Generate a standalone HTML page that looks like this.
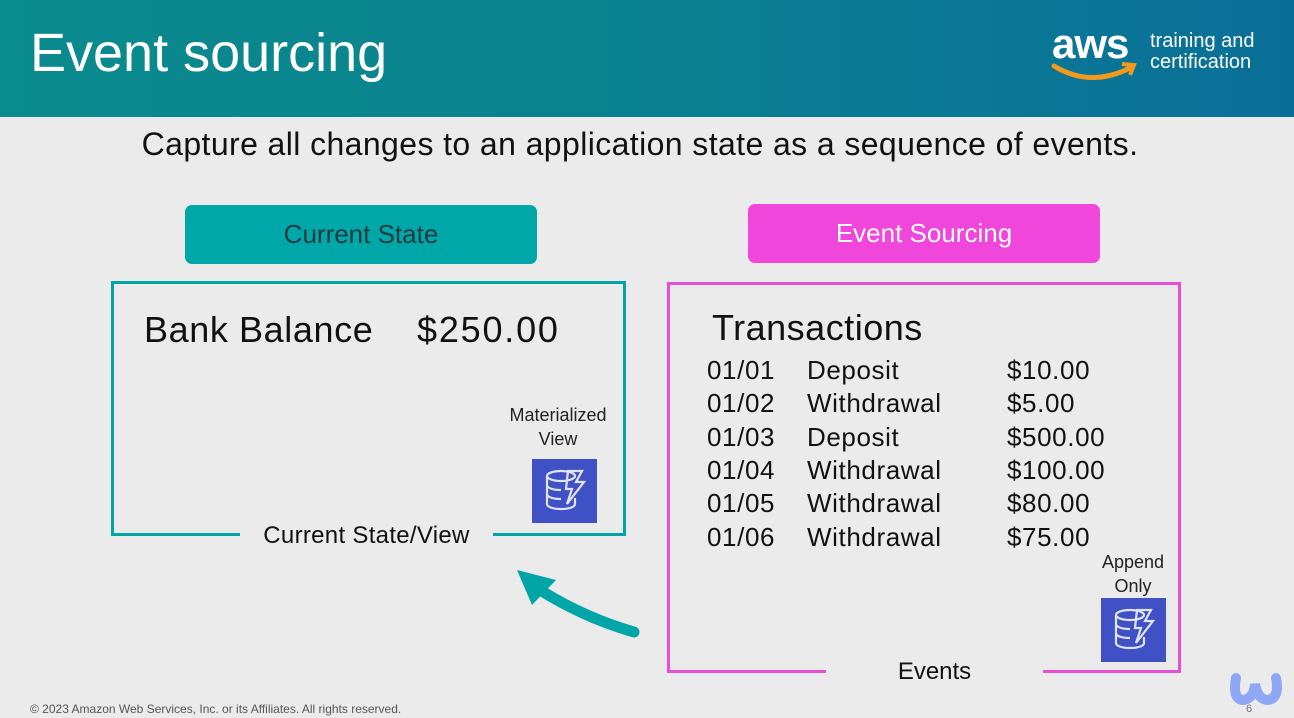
<!DOCTYPE html>
<html><head><meta charset="utf-8"><style>
body{margin:0;width:1294px;height:718px;overflow:hidden;background:#ebebeb;font-family:"Liberation Sans",sans-serif;position:relative}
.a{position:absolute;white-space:nowrap}
.hdr{position:absolute;left:0;top:0;width:1294px;height:117px;background:linear-gradient(90deg,#0a8b8d 0%,#0a8290 45%,#0a7896 75%,#0a6f98 100%)}
.btn{position:absolute;border-radius:7px;text-align:center;font-size:26px;line-height:59px}
.row{position:absolute;font-size:26px;color:#111;left:707px;letter-spacing:0.6px}
.row span{position:absolute;top:0}
</style></head><body>
<div class="hdr"></div>
<div class="a" style="left:30px;top:22px;font-size:54px;color:#fff;letter-spacing:0px">Event sourcing</div>
<div class="a" style="left:1052px;top:20px;font-size:42px;color:#fff;font-weight:bold;letter-spacing:-1px">aws</div>
<svg class="a" style="left:1050px;top:60px" width="90" height="24"><path d="M4 6 Q40 28 80 8" stroke="#f39a1e" stroke-width="5" fill="none" stroke-linecap="round"/><path d="M72 4 L84 5 L80 15" stroke="#f39a1e" stroke-width="4" fill="none"/></svg>
<div class="a" style="left:1150px;top:31px;font-size:20px;color:#fff;line-height:21px">training and<br>certification</div>
<div class="a" style="left:0;width:1280px;text-align:center;top:126px;font-size:32px;color:#111;letter-spacing:0.4px">Capture all changes to an application state as a sequence of events.</div>
<div class="btn" style="left:185px;top:205px;width:352px;height:59px;background:#00a7a9;color:#1d3b3e">Current State</div>
<div class="btn" style="left:748px;top:204px;width:352px;height:59px;background:#f046dc;color:#fff">Event Sourcing</div>
<div class="a" style="left:111px;top:281px;width:509px;height:249px;border:3px solid #00a5a8"></div>
<div class="a" style="left:240px;top:525px;width:253px;height:14px;background:#ebebeb"></div>
<div class="a" style="left:240px;top:522px;width:253px;text-align:center;font-size:24px;color:#111;letter-spacing:0.3px">Current State/View</div>
<div class="a" style="left:144px;top:309px;font-size:36px;color:#111;letter-spacing:0.6px">Bank Balance</div>
<div class="a" style="left:417px;top:309px;font-size:36px;color:#111;letter-spacing:1.8px">$250.00</div>
<div class="a" style="left:498px;top:403px;width:120px;text-align:center;font-size:18px;line-height:24px;color:#222">Materialized<br>View</div>
<div class="a" style="left:667px;top:282px;width:508px;height:385px;border:3px solid #e94fd6"></div>
<div class="a" style="left:826px;top:660px;width:217px;height:16px;background:#ebebeb"></div>
<div class="a" style="left:826px;top:658px;width:217px;text-align:center;font-size:24px;color:#111">Events</div>
<div class="a" style="left:712px;top:307px;font-size:36px;color:#111;letter-spacing:0.5px">Transactions</div>
<div class="row" style="top:355px"><span>01/01</span><span style="left:100px">Deposit</span><span style="left:300px">$10.00</span></div>
<div class="row" style="top:388px"><span>01/02</span><span style="left:100px">Withdrawal</span><span style="left:300px">$5.00</span></div>
<div class="row" style="top:422px"><span>01/03</span><span style="left:100px">Deposit</span><span style="left:300px">$500.00</span></div>
<div class="row" style="top:455px"><span>01/04</span><span style="left:100px">Withdrawal</span><span style="left:300px">$100.00</span></div>
<div class="row" style="top:488px"><span>01/05</span><span style="left:100px">Withdrawal</span><span style="left:300px">$80.00</span></div>
<div class="row" style="top:522px"><span>01/06</span><span style="left:100px">Withdrawal</span><span style="left:300px">$75.00</span></div>
<div class="a" style="left:1083px;top:550px;width:100px;text-align:center;font-size:18px;line-height:24px;color:#222">Append<br>Only</div>
<svg class="a" style="left:532px;top:459px" width="65" height="64" viewBox="0 0 65 64"><rect width="65" height="64" fill="#3f51c4"/><g stroke="#dfe3f5" stroke-width="2.2" fill="none"><ellipse cx="29" cy="17" rx="14" ry="5"/><path d="M15 17v28c0 3 6 5 14 5s14-2 14-5v-6M15 26c0 3 6 5 14 5M15 35c0 3 6 5 14 5"/><path d="M36 12l14 0-6 11 8 0-17 22 5-15-6 0z"/></g></svg>
<svg class="a" style="left:1101px;top:598px" width="65" height="64" viewBox="0 0 65 64"><rect width="65" height="64" fill="#3f51c4"/><g stroke="#dfe3f5" stroke-width="2.2" fill="none"><ellipse cx="29" cy="17" rx="14" ry="5"/><path d="M15 17v28c0 3 6 5 14 5s14-2 14-5v-6M15 26c0 3 6 5 14 5M15 35c0 3 6 5 14 5"/><path d="M36 12l14 0-6 11 8 0-17 22 5-15-6 0z"/></g></svg>
<svg class="a" style="left:0;top:0" width="1294" height="718"><path d="M634 632 Q585 618 540 590" stroke="#00a5a8" stroke-width="11" fill="none" stroke-linecap="round"/><path d="M517 570 L556 580 L532 605 Z" fill="#00a5a8"/></svg>
<svg class="a" style="left:1228px;top:666px" width="56" height="40"><path d="M8 12 Q4 34 16 34 Q26 32 27 18 Q30 34 40 34 Q52 32 48 12" stroke="#8fa8f5" stroke-width="10" fill="none" stroke-linecap="round"/></svg>
<div class="a" style="left:1246px;top:703px;font-size:11px;color:#777">6</div>
<div class="a" style="left:30px;top:702px;font-size:12px;color:#555">© 2023 Amazon Web Services, Inc. or its Affiliates. All rights reserved.</div>
</body></html>
